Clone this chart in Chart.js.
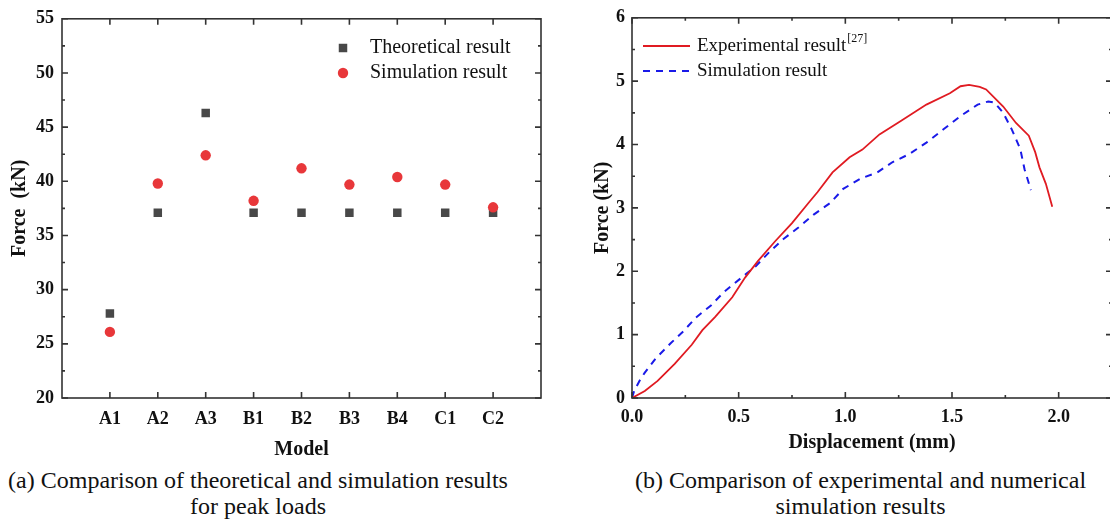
<!DOCTYPE html>
<html>
<head>
<meta charset="utf-8">
<script src="https://cdn.jsdelivr.net/npm/chart.js@4.4.1/dist/chart.umd.min.js"></script>
<style>
  html, body { margin: 0; padding: 0; background: #fff; overflow: hidden; }
  #page { position: relative; width: 1110px; height: 520px; overflow: hidden; }
  canvas { position: absolute; top: 0; }
  #peak { left: 0; }
  #curve { left: 560px; }
  .caption {
    position: absolute;
    font-family: "Liberation Serif", "Times New Roman", serif;
    font-size: 24px;
    line-height: 26px;
    color: #111;
    text-align: center;
    white-space: nowrap;
  }
</style>
</head>
<body>
<div id="page">
  <canvas id="peak" width="560" height="462"></canvas>
  <canvas id="curve" width="570" height="462"></canvas>
  <div class="caption" style="left:0;width:516px;top:467px">(a) Comparison of theoretical and simulation results<br>for peak loads</div>
  <div class="caption" style="left:600px;width:521px;top:467px">(b) Comparison of experimental and numerical<br>simulation results</div>
</div>
<script>
// (a) peak loads per model
const models = ["A1", "A2", "A3", "B1", "B2", "B3", "B4", "C1", "C2"];
const theoretical = [27.8, 37.1, 46.3, 37.1, 37.1, 37.1, 37.1, 37.1, 37.1];
const simulated = [26.1, 39.8, 42.4, 38.2, 41.2, 39.7, 40.4, 39.7, 37.6];
const peakTicks = [20, 25, 30, 35, 40, 45, 50, 55];

// (b) force-displacement curves
const expDisp = [0, 0.06, 0.12, 0.20, 0.28, 0.33, 0.39, 0.47, 0.53, 0.59, 0.67, 0.75, 0.83, 0.87, 0.94,
  1.02, 1.08, 1.16, 1.26, 1.38, 1.49, 1.54, 1.58, 1.63, 1.66, 1.74, 1.80, 1.86, 1.89, 1.91, 1.94, 1.97];
const expForce = [0, 0.11, 0.27, 0.54, 0.84, 1.07, 1.28, 1.59, 1.90, 2.16, 2.47, 2.76, 3.09, 3.25, 3.56,
  3.80, 3.92, 4.16, 4.37, 4.63, 4.81, 4.92, 4.94, 4.91, 4.87, 4.60, 4.34, 4.14, 3.88, 3.64, 3.38, 3.02];
const simDisp = [0, 0.01, 0.04, 0.06, 0.11, 0.18, 0.24, 0.30, 0.37, 0.43, 0.51, 0.58, 0.64, 0.71, 0.78,
  0.85, 0.93, 0.99, 1.07, 1.15, 1.22, 1.30, 1.38, 1.46, 1.54, 1.62, 1.67, 1.70, 1.74, 1.78, 1.82, 1.84, 1.87];
const simForce = [0, 0.11, 0.30, 0.40, 0.62, 0.86, 1.05, 1.27, 1.46, 1.67, 1.89, 2.08, 2.29, 2.51, 2.69,
  2.89, 3.08, 3.30, 3.46, 3.56, 3.72, 3.85, 4.03, 4.24, 4.45, 4.63, 4.68, 4.66, 4.50, 4.24, 3.93, 3.61, 3.28];
const dispTicks = [0, 0.5, 1.0, 1.5, 2.0];
const loadTicks = [0, 1, 2, 3, 4, 5, 6];

const serif = '"Liberation Serif", "Times New Roman", serif';
Chart.defaults.font.family = serif;
Chart.defaults.color = "#111";
Chart.defaults.animation = false;

const boldTicks = { size: 18, weight: "bold" };
const boldTitle = { size: 20, weight: "bold" };

// major ticks come from the scale, minor ones fill the gaps
function tickMarks(scale, minorStep) {
  const out = scale.ticks.map(t => [t.value, 6]);
  if (minorStep) {
    for (let v = scale.min; v <= scale.max + 1e-9; v += minorStep) {
      if (!scale.ticks.some(t => Math.abs(t.value - v) < 1e-9)) out.push([v, 3]);
    }
  }
  return out;
}

// closed frame with ticks pointing inwards on all four sides
const frameTicks = {
  id: "frameTicks",
  afterDatasetsDraw(chart, args, opts) {
    const { ctx, chartArea: a, scales } = chart;
    const sx = scales.x, sy = scales.y;
    ctx.save();
    ctx.strokeStyle = "#333";
    ctx.lineWidth = 1.6;
    ctx.beginPath();
    tickMarks(sx, opts.xMinor).forEach(([v, len]) => {
      const p = sx.getPixelForValue(v);
      ctx.moveTo(p, a.bottom); ctx.lineTo(p, a.bottom - len);
      ctx.moveTo(p, a.top); ctx.lineTo(p, a.top + len);
    });
    tickMarks(sy, opts.yMinor).forEach(([v, len]) => {
      const p = sy.getPixelForValue(v);
      ctx.moveTo(a.left, p); ctx.lineTo(a.left + len, p);
      ctx.moveTo(a.right, p); ctx.lineTo(a.right - len, p);
    });
    ctx.stroke();
    ctx.strokeRect(a.left, a.top, a.right - a.left, a.bottom - a.top);
    ctx.restore();
  }
};

// legend drawn inside the plot area
const insetLegend = {
  id: "insetLegend",
  afterDraw(chart, args, o) {
    const ctx = chart.ctx;
    const font = o.size + "px " + serif;
    ctx.save();
    ctx.textBaseline = "middle";
    chart.data.datasets.forEach((ds, i) => {
      const y = o.y + i * o.gap;
      if (o.kind === "line") {
        ctx.strokeStyle = ds.borderColor;
        ctx.lineWidth = ds.borderWidth;
        ctx.setLineDash(ds.borderDash || []);
        ctx.beginPath();
        ctx.moveTo(o.x, y);
        ctx.lineTo(o.x + o.sample, y);
        ctx.stroke();
        ctx.setLineDash([]);
      } else {
        ctx.fillStyle = ds.backgroundColor;
        if (ds.pointStyle === "rect") {
          const s = ds.pointRadius * Math.SQRT1_2;
          ctx.fillRect(o.x - s, y - s, 2 * s, 2 * s);
        } else {
          ctx.beginPath();
          ctx.arc(o.x, y, ds.pointRadius, 0, Math.PI * 2);
          ctx.fill();
        }
      }
      ctx.fillStyle = "#111";
      ctx.font = font;
      ctx.fillText(ds.label, o.textX, y);
      if (ds.note) {
        const w = ctx.measureText(ds.label).width;
        ctx.font = "12px " + serif;
        ctx.fillText(ds.note, o.textX + w + 1, y - 7);
      }
    });
    ctx.restore();
  }
};

new Chart(document.getElementById("peak"), {
  type: "scatter",
  data: {
    datasets: [
      {
        label: "Theoretical result",
        data: models.map((m, i) => ({ x: i + 1, y: theoretical[i] })),
        pointStyle: "rect",
        pointRadius: 6,
        backgroundColor: "#484848",
        borderWidth: 0,
        order: 2
      },
      {
        label: "Simulation result",
        data: models.map((m, i) => ({ x: i + 1, y: simulated[i] })),
        pointStyle: "circle",
        pointRadius: 5.2,
        backgroundColor: "#e8373a",
        borderWidth: 0,
        order: 1
      }
    ]
  },
  options: {
    responsive: false,
    layout: { padding: { left: 0, right: 19, top: 14, bottom: 0 } },
    plugins: {
      legend: { display: false },
      tooltip: { enabled: false },
      frameTicks: { yMinor: 2.5 },
      insetLegend: { kind: "point", x: 343, y: 48, gap: 25, textX: 370, size: 20 }
    },
    scales: {
      x: {
        type: "linear",
        min: 0,
        max: 10,
        afterBuildTicks: s => { s.ticks = models.map((m, i) => ({ value: i + 1 })); },
        afterFit: s => { s.height = 64; },
        ticks: {
          callback: v => models[v - 1],
          font: boldTicks,
          color: "#111",
          padding: 11,
          maxRotation: 0,
          autoSkip: false
        },
        grid: { display: false, drawTicks: false },
        border: { display: false },
        title: { display: true, text: "Model", font: boldTitle, color: "#111", padding: { top: 0, bottom: 0 } }
      },
      y: {
        min: 20,
        max: 55,
        afterBuildTicks: s => { s.ticks = peakTicks.map(v => ({ value: v })); },
        afterFit: s => { s.width = 62; },
        ticks: { font: boldTicks, color: "#111", padding: 8 },
        grid: { display: false, drawTicks: false },
        border: { display: false },
        title: { display: true, text: "Force  (kN)", font: boldTitle, color: "#111", padding: { top: 8, bottom: 0 } }
      }
    }
  },
  plugins: [frameTicks, insetLegend]
});

new Chart(document.getElementById("curve"), {
  type: "scatter",
  data: {
    datasets: [
      {
        label: "Experimental result",
        note: "[27]",
        data: expDisp.map((x, i) => ({ x, y: expForce[i] })),
        showLine: true,
        pointRadius: 0,
        borderColor: "#e01b22",
        borderWidth: 1.8,
        tension: 0
      },
      {
        label: "Simulation result",
        data: simDisp.map((x, i) => ({ x, y: simForce[i] })),
        showLine: true,
        pointRadius: 0,
        borderColor: "#1a1ae8",
        borderWidth: 2,
        borderDash: [7, 6],
        tension: 0
      }
    ]
  },
  options: {
    responsive: false,
    layout: { padding: { left: 0, right: 18, top: 14, bottom: 0 } },
    plugins: {
      legend: { display: false },
      tooltip: { enabled: false },
      frameTicks: { xMinor: 0.25, yMinor: 0.5 },
      insetLegend: { kind: "line", x: 83, y: 46, gap: 25, sample: 47, textX: 137, size: 19 }
    },
    scales: {
      x: {
        type: "linear",
        min: 0,
        max: 2.25,
        afterBuildTicks: s => { s.ticks = dispTicks.map(v => ({ value: v })); },
        afterFit: s => { s.height = 64; },
        ticks: { callback: v => v.toFixed(1), font: boldTicks, color: "#111", padding: 9, maxRotation: 0 },
        grid: { display: false, drawTicks: false },
        border: { display: false },
        title: { display: true, text: "Displacement (mm)", font: boldTitle, color: "#111", padding: { top: 0, bottom: 7 } }
      },
      y: {
        min: 0,
        max: 6,
        afterBuildTicks: s => { s.ticks = loadTicks.map(v => ({ value: v })); },
        afterFit: s => { s.width = 72; },
        ticks: { font: boldTicks, color: "#111", padding: 7 },
        grid: { display: false, drawTicks: false },
        border: { display: false },
        title: { display: true, text: "Force (kN)", font: boldTitle, color: "#111", padding: { top: 31, bottom: 0 } }
      }
    }
  },
  plugins: [frameTicks, insetLegend]
});
</script>
</body>
</html>
